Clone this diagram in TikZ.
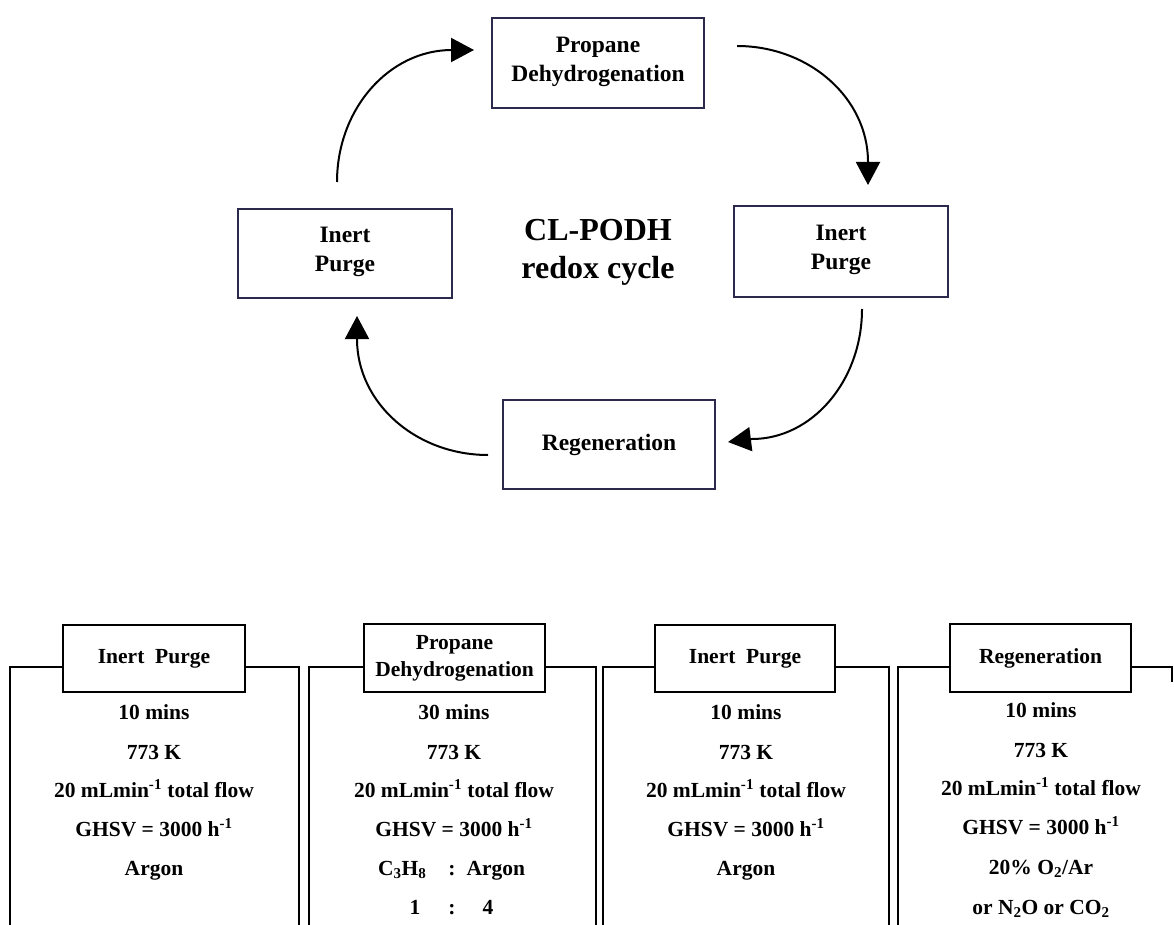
\documentclass[tikz,border=0pt]{standalone}
\usepackage{fontspec}
\setmainfont{Liberation Serif}
\usetikzlibrary{arrows.meta}
\definecolor{boxnavy}{HTML}{2B2A4C}
\tikzset{
  cyclebox/.style={draw=boxnavy, line width=1.8pt, fill=white, align=center,
    inner sep=0pt, font=\fontsize{23.5}{29}\selectfont\bfseries},
  cyclearrow/.style={line width=2pt, -{Triangle[length=23pt,width=24pt]}},
  hdrbox/.style={draw=black, line width=2.4pt, fill=white, align=center,
    inner sep=0pt, font=\fontsize{21.5}{27}\selectfont\bfseries},
  panel/.style={draw=black, line width=2.4pt},
  ln/.style={anchor=base, inner sep=0pt, font=\fontsize{21.5}{26}\selectfont\bfseries}
}
\begin{document}
\begin{tikzpicture}[x=1pt,y=-1pt]
\useasboundingbox (0,0) rectangle (1174,925);
% ---------- cycle ----------
\node[cyclebox, minimum width=212pt, minimum height=90pt, text depth=8pt] (pdh) at (598,63) {Propane\\Dehydrogenation};
\node[cyclebox, minimum width=214pt, minimum height=89pt, text depth=8pt] (ipl) at (345,253.5) {Inert\\Purge};
\node[cyclebox, minimum width=214pt, minimum height=91pt, text depth=8pt] (ipr) at (841,251.5) {Inert\\Purge};
\node[cyclebox, minimum width=212pt, minimum height=89pt] (reg) at (609,444.5) {Regeneration};
\node[align=center, inner sep=0pt, font=\fontsize{32}{38}\selectfont\bfseries] (title) at (598,252) {CL-PODH\\redox cycle};

\coordinate (a1s) at (337,182);
\coordinate (a1b) at (452,50);
\coordinate (a1t) at (474,50);
\coordinate (a2s) at (737,46);
\coordinate (a2b) at (868,162);
\coordinate (a2t) at (868,185);
\coordinate (a3s) at (862,309);
\coordinate (a3b) at (752,439);
\coordinate (a3t) at (728,442);
\coordinate (a4s) at (488,455);
\coordinate (a4b) at (357,339);
\coordinate (a4t) at (357,316);
\draw[cyclearrow] (a1s) .. controls (337,109) and (389,50) .. (a1b) -- (a1t);
\draw[cyclearrow] (a2s) .. controls (809,46) and (868,98) .. (a2b) -- (a2t);
\draw[cyclearrow] (a3s) .. controls (862,381) and (812,439) .. (a3b) -- (a3t);
\draw[cyclearrow] (a4s) .. controls (416,455) and (357,403) .. (a4b) -- (a4t);

% ---------- panels ----------
\draw[panel] (63,667) -- (10,667) -- (10,940);
\draw[panel] (245,667) -- (299,667) -- (299,940);
\draw[panel] (364,667) -- (309,667) -- (309,940);
\draw[panel] (545,667) -- (596,667) -- (596,940);
\draw[panel] (655,667) -- (603,667) -- (603,940);
\draw[panel] (835,667) -- (889,667) -- (889,940);
\draw[panel] (950,667) -- (898,667) -- (898,940);
\draw[panel] (1131,667) -- (1172,667) -- (1172,682);

\node[hdrbox, minimum width=182pt, minimum height=67pt] (h1) at (154,658.5) {Inert\ \ Purge};
\node[hdrbox, minimum width=181pt, minimum height=68pt] (h2) at (454.5,658) {Propane\\Dehydrogenation};
\node[hdrbox, minimum width=180pt, minimum height=67pt] (h3) at (745,658.5) {Inert\ \ Purge};
\node[hdrbox, minimum width=181pt, minimum height=68pt] (h4) at (1040.5,658) {Regeneration};

% panel 1
\node[ln] (p1a) at (154,719) {10 mins};
\node[ln] (p1b) at (154,759) {773 K};
\node[ln] (p1c) at (154,797) {20 mLmin\textsuperscript{-1} total flow};
\node[ln] (p1d) at (154,836) {GHSV = 3000 h\textsuperscript{-1}};
\node[ln] (p1e) at (154,875) {Argon};
% panel 2
\node[ln] (p2a) at (454,719) {30 mins};
\node[ln] (p2b) at (454,759) {773 K};
\node[ln] (p2c) at (454,797) {20 mLmin\textsuperscript{-1} total flow};
\node[ln] (p2d) at (454,836) {GHSV = 3000 h\textsuperscript{-1}};
\node[ln] (p2e) at (452,875) {\makebox[0pt][r]{C\textsubscript{3}H\textsubscript{8}\hspace{22pt}}:\makebox[0pt][l]{\hspace{11pt}Argon}};
\node[ln] (p2f) at (452,914) {\makebox[0pt][r]{1\hspace{28pt}}:\makebox[0pt][l]{\hspace{27pt}4}};
% panel 3
\node[ln] (p3a) at (746,719) {10 mins};
\node[ln] (p3b) at (746,759) {773 K};
\node[ln] (p3c) at (746,797) {20 mLmin\textsuperscript{-1} total flow};
\node[ln] (p3d) at (746,836) {GHSV = 3000 h\textsuperscript{-1}};
\node[ln] (p3e) at (746,875) {Argon};
% panel 4
\node[ln] (p4a) at (1041,717) {10 mins};
\node[ln] (p4b) at (1041,757) {773 K};
\node[ln] (p4c) at (1041,795) {20 mLmin\textsuperscript{-1} total flow};
\node[ln] (p4d) at (1041,834) {GHSV = 3000 h\textsuperscript{-1}};
\node[ln] (p4e) at (1041,874) {20\% O\textsubscript{2}/Ar};
\node[ln] (p4f) at (1041,914) {or N\textsubscript{2}O or CO\textsubscript{2}};
\end{tikzpicture}
\end{document}
